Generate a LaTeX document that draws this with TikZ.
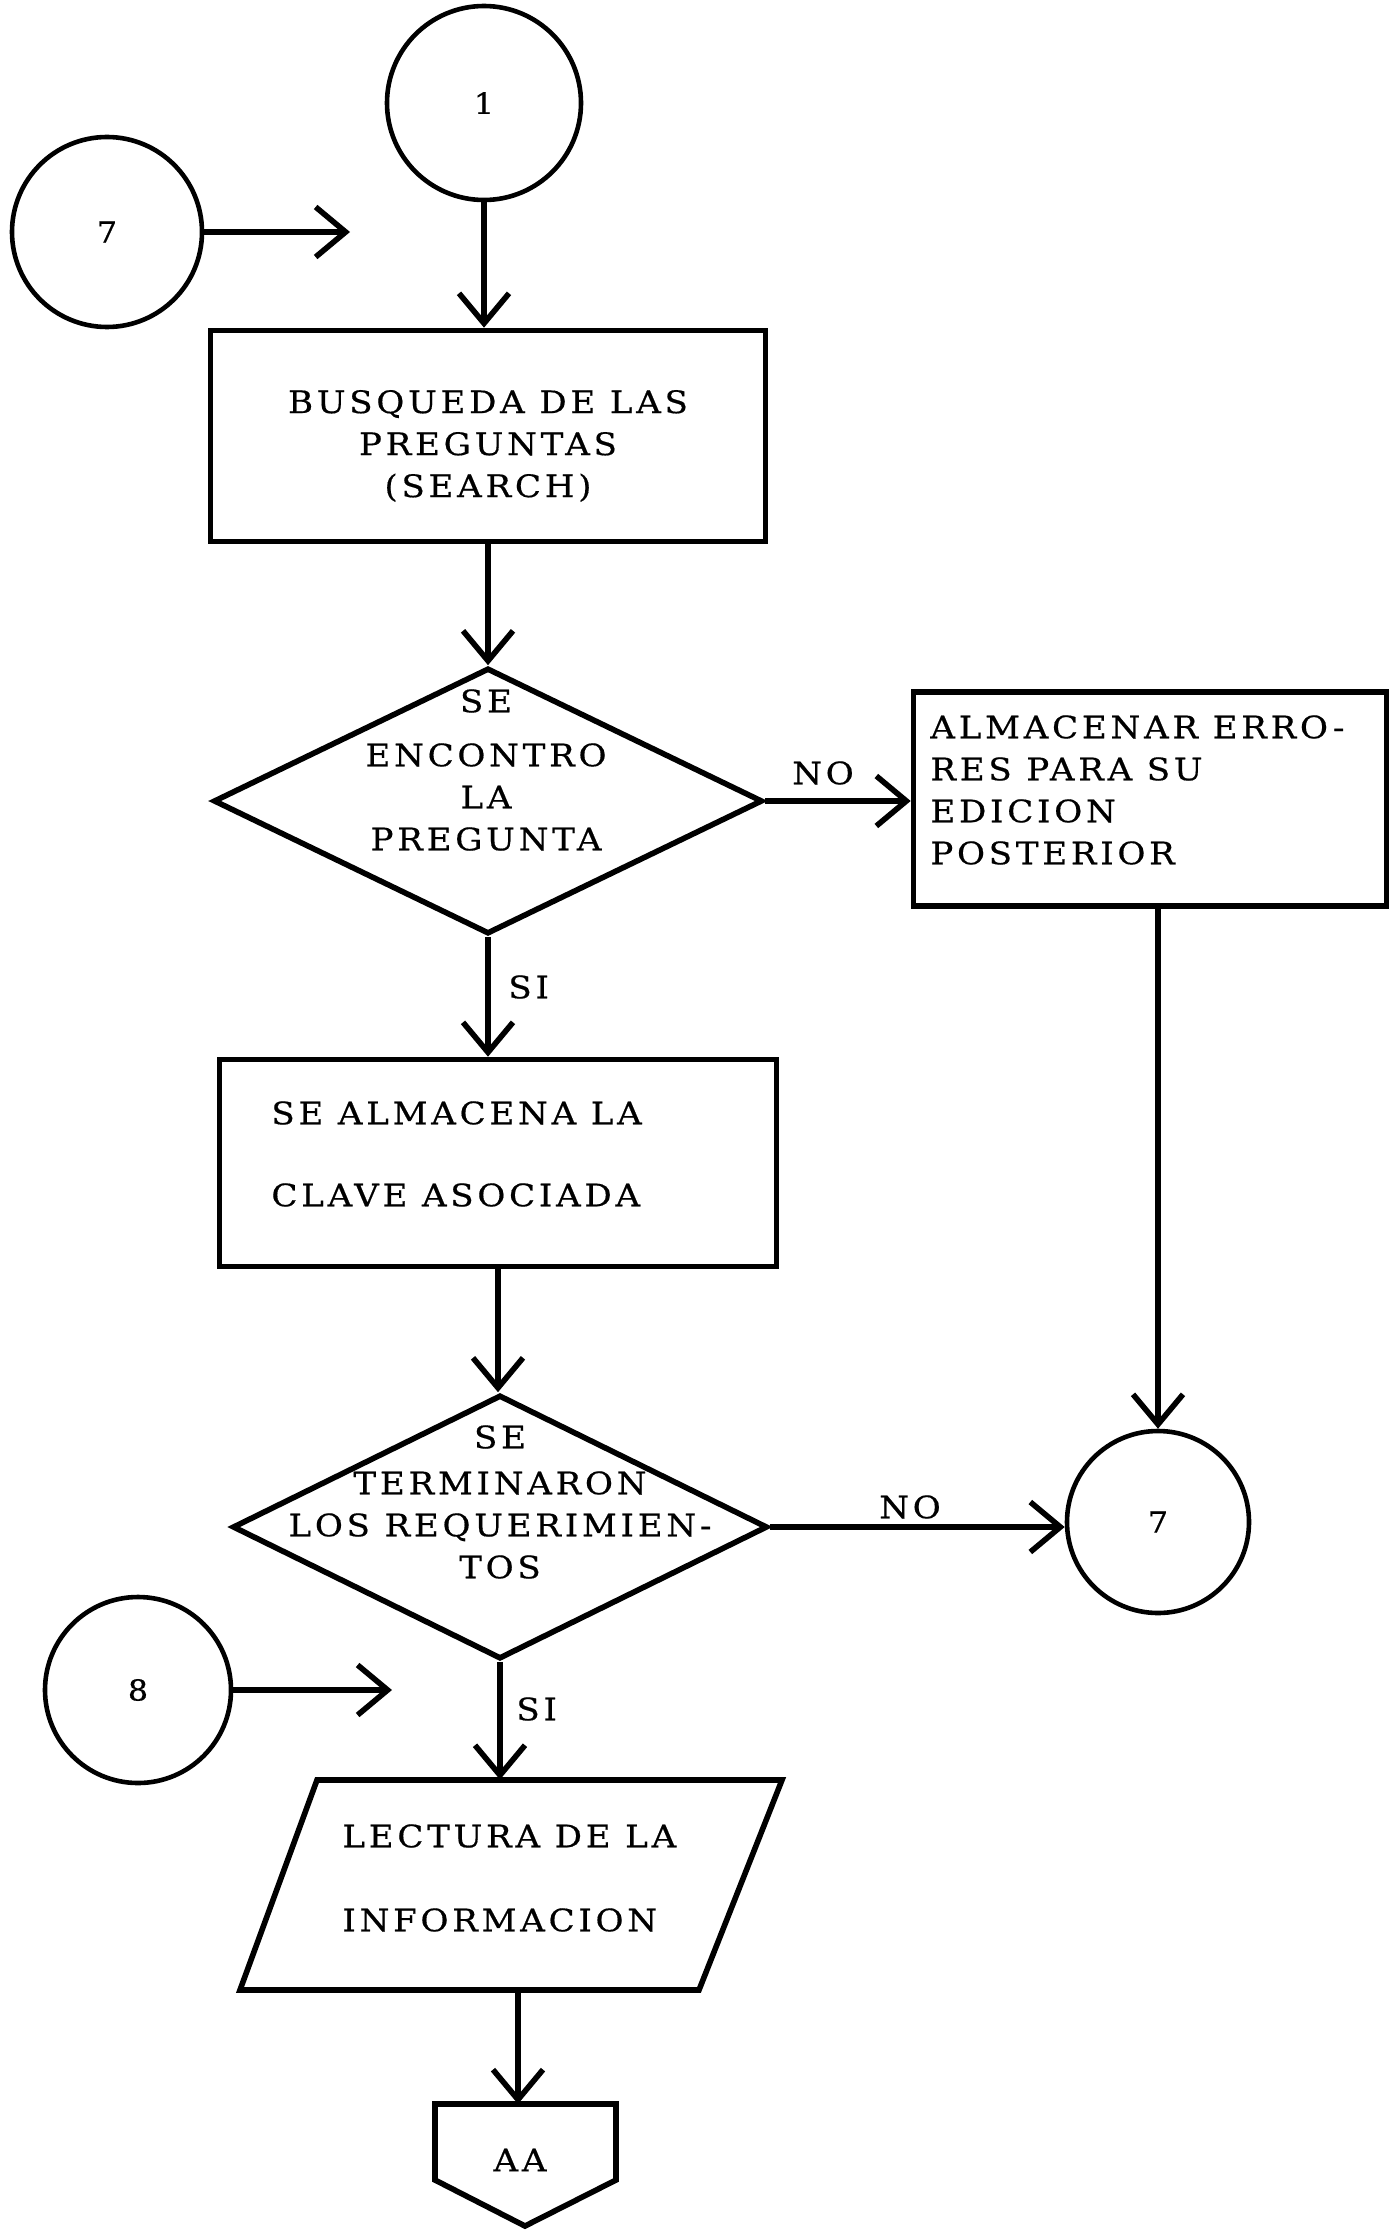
\documentclass[tikz,border=0pt]{standalone}
\usepackage{fontspec}
\setmainfont{DejaVu Serif}[FakeStretch=1.1,LetterSpace=12,FakeBold=0.5]
\usetikzlibrary{shapes.geometric,arrows.meta}
\begin{document}
\begin{tikzpicture}[x=0.5pt,y=-0.5pt,
  ln/.style={line width=2.8pt},
  box/.style={draw,ln,rectangle,inner sep=0pt},
  dia/.style={draw,ln,diamond,inner sep=0pt},
  conn/.style={draw,line width=2.3pt,circle,inner sep=0pt,font=\fontsize{14.5}{16}\selectfont},
  txt/.style={inner sep=0pt,font=\fontsize{15.5}{21}\selectfont},
  arr/.style={ln,-{Straight Barb[length=15pt,width=25pt]}},
]
\useasboundingbox (0,0) rectangle (1395,2236);
% connectors (circles)
\node[conn,minimum size=97pt] (c1) at (484,103) {1};
\node[conn,minimum size=95pt] (c7a) at (107,232) {7};
\node[conn,minimum size=91pt] (c7b) at (1158,1522) {7};
\node[conn,minimum size=93pt] (c8) at (138,1690) {8};
\coordinate (fa) at (350,232);
\coordinate (f8) at (392,1690);
% boxes
\node[box,minimum width=277.5pt,minimum height=105.5pt] (b1) at (488,436) {};
\node[txt,align=center] (t1) at (488,446) {BUSQUEDA DE LAS\\PREGUNTAS\\(SEARCH)};
\node[dia,minimum width=274.5pt,minimum height=133pt] (d1) at (488,801) {};
\node[txt,align=center] (t2) at (486,770) {SE\\[6pt]ENCONTRO\\LA\\PREGUNTA};
\node[box,minimum width=236.5pt,minimum height=107pt] (b2) at (1150,799) {};
\node[txt,align=left,anchor=west] (t3) at (930,790) {ALMACENAR ERRO-\\RES PARA SU\\EDICION\\POSTERIOR};
\node[box,minimum width=278.5pt,minimum height=103.5pt] (b3) at (498,1163) {};
\node[txt,align=left,anchor=west] (t4) at (271,1154) {SE ALMACENA LA\\[20pt]CLAVE ASOCIADA};
\node[dia,minimum width=267.5pt,minimum height=132pt] (d2) at (500,1527) {};
\node[txt,align=center] (t5) at (500,1502) {SE\\[2pt]TERMINARON\\LOS REQUERIMIEN-\\TOS};
% input/output parallelogram
\node[inner sep=0pt,minimum width=232.5pt,minimum height=105pt] (p) at (511,1885) {};
\draw[ln] (317,1780) -- (782,1780) -- (699,1990) -- (240,1990) -- cycle;
\node[txt,align=left,anchor=west] (t6) at (342,1878) {LECTURA DE LA\\[21pt]INFORMACION};
% off-page connector
\draw[ln] (435,2104) -- (616,2104) -- (616,2180) -- (525,2226) -- (435,2180) -- cycle;
\coordinate (aatop) at (518,2104);
\node[txt] (aa) at (520,2160) {AA};
% arrows
\draw[arr] (c1.south) -- (c1.south |- b1.north);
\draw[arr] (c7a.east) -- (fa);
\draw[arr] (b1.south) -- (b1.south |- d1.north);
\draw[arr] (d1.east) -- (d1.east -| b2.west);
\draw[arr] (b2.south -| c7b) -- (c7b.north);
\draw[arr] (d1.south) -- (d1.south |- b3.north);
\draw[arr] (b3.south) -- (b3.south |- d2.north);
\draw[arr] (d2.east) -- (d2.east -| c7b.west);
\draw[arr] (c8.east) -- (f8);
\draw[arr] (d2.south) -- (d2.south |- p.north);
\draw[arr] (p.south -| aatop) -- (aatop);
% labels
\node[txt] (no1) at (823,773) {NO};
\node[txt,anchor=west] (si1) at (508,987) {SI};
\node[txt] (no2) at (910,1507) {NO};
\node[txt,anchor=west] (si2) at (516,1709) {SI};
\end{tikzpicture}
\end{document}
